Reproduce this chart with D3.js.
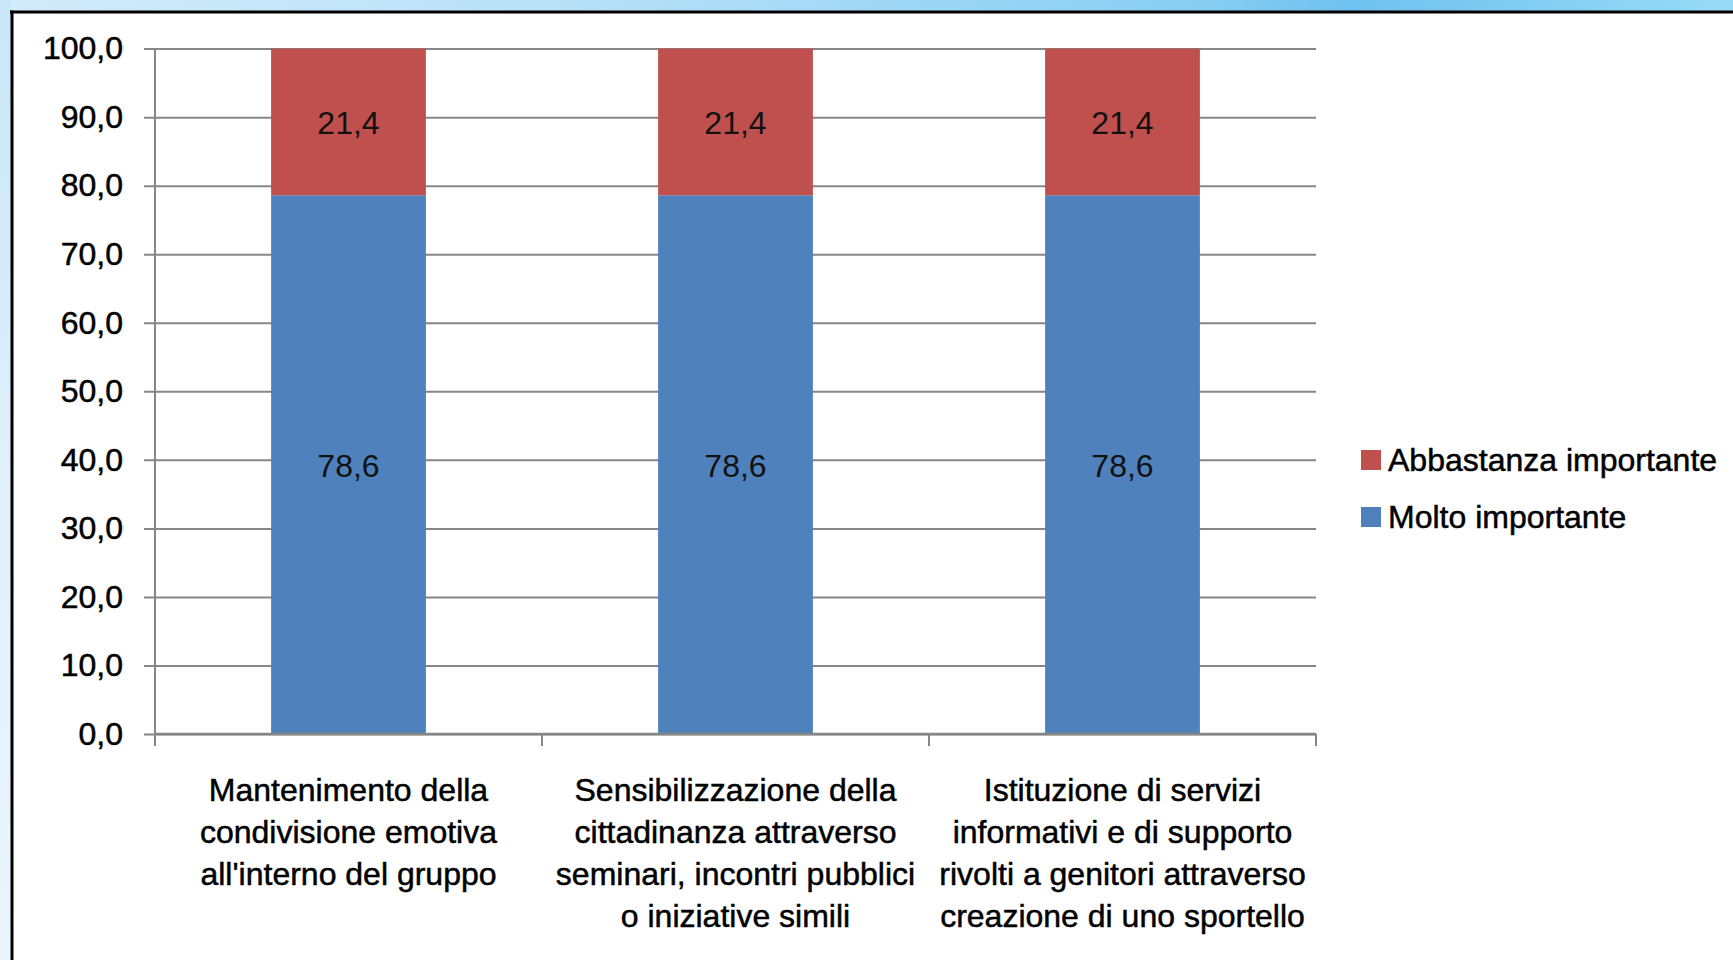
<!DOCTYPE html>
<html>
<head>
<meta charset="utf-8">
<script src="https://cdn.jsdelivr.net/npm/d3@7/dist/d3.min.js"></script>
<style>
  html, body { margin: 0; padding: 0; background: #ffffff; }
  svg { display: block; }
  text { font-family: "Liberation Sans", Arial, sans-serif; }
</style>
</head>
<body>
<svg id="chart" width="1733" height="960"></svg>
<script>
// ---- data ----
const categories = [
  "Mantenimento della condivisione emotiva all'interno del gruppo",
  "Sensibilizzazione della cittadinanza attraverso seminari, incontri pubblici o iniziative simili",
  "Istituzione di servizi informativi e di supporto rivolti a genitori attraverso creazione di uno sportello"
];
const categoryLines = [
  ["Mantenimento della", "condivisione emotiva", "all'interno del gruppo"],
  ["Sensibilizzazione della", "cittadinanza attraverso", "seminari, incontri pubblici", "o iniziative simili"],
  ["Istituzione di servizi", "informativi e di supporto", "rivolti a genitori attraverso", "creazione di uno sportello"]
];
const seriesNames = ["Molto importante", "Abbastanza importante"];
const moltoImportante = [78.6, 78.6, 78.6];
const abbastanzaImportante = [21.4, 21.4, 21.4];
const yTickValues = [0, 10, 20, 30, 40, 50, 60, 70, 80, 90, 100];
const seriesColors = ["#4F81BD", "#C0504D"];

// ---- layout ----
const svg = d3.select("#chart");
const W = 1733, H = 960;
const plot = { left: 155, right: 1316, top: 48.6, bottom: 734 };
const FS = 32;

// background frame
const defs = svg.append("defs");
const gTop = defs.append("linearGradient").attr("id", "gTop").attr("x1", "0").attr("x2", "1").attr("y1", "0").attr("y2", "0");
gTop.append("stop").attr("offset", "0").attr("stop-color", "#d3ebfa");
gTop.append("stop").attr("offset", "0.35").attr("stop-color", "#b6e0f8");
gTop.append("stop").attr("offset", "0.7").attr("stop-color", "#86cdf2");
gTop.append("stop").attr("offset", "0.78").attr("stop-color", "#6fc1ef");
gTop.append("stop").attr("offset", "1").attr("stop-color", "#98dbf6");
const gLeft = defs.append("linearGradient").attr("id", "gLeft").attr("x1", "0").attr("x2", "0").attr("y1", "0").attr("y2", "1");
gLeft.append("stop").attr("offset", "0").attr("stop-color", "#c9e6f9");
gLeft.append("stop").attr("offset", "0.5").attr("stop-color", "#dff0fb");
gLeft.append("stop").attr("offset", "1").attr("stop-color", "#eaf5fd");

svg.append("rect").attr("x", 0).attr("y", 0).attr("width", W).attr("height", H).attr("fill", "#ffffff");
svg.append("rect").attr("x", 0).attr("y", 0).attr("width", W).attr("height", 11).attr("fill", "url(#gTop)");
svg.append("rect").attr("x", 0).attr("y", 0).attr("width", 11).attr("height", H).attr("fill", "url(#gLeft)");
svg.append("line").attr("x1", 10).attr("x2", W).attr("y1", 12).attr("y2", 12).attr("stroke", "#000").attr("stroke-width", 3);
svg.append("line").attr("x1", 12).attr("x2", 12).attr("y1", 10.5).attr("y2", H).attr("stroke", "#000").attr("stroke-width", 3);

// scales
const x = d3.scaleBand().domain(categories).range([plot.left, plot.right]).paddingInner(0.6).paddingOuter(0.3);
const y = d3.scaleLinear().domain([0, 100]).range([plot.bottom, plot.top]);

const gridColor = "#868686";
const fmt = v => d3.format(".1f")(v).replace(".", ",");

// gridlines + y axis
const yAxis = d3.axisLeft(y).tickValues(yTickValues).tickSize(plot.right - plot.left + 11).tickFormat(fmt).tickPadding(21);
const gy = svg.append("g").attr("transform", `translate(${plot.right},0)`).call(yAxis);
gy.select(".domain").remove();
gy.selectAll(".tick line").attr("stroke", gridColor).attr("stroke-width", 2);
gy.selectAll(".tick text")
  .attr("font-size", FS).attr("fill", "#000").attr("stroke", "#000").attr("stroke-width", 0.5)
  .attr("font-family", "Liberation Sans, Arial, sans-serif")
  .attr("x", -(plot.right - plot.left + 11) - 21);

// bars
const rows = categories.map((c, i) => ({ cat: c, molto: moltoImportante[i], abb: abbastanzaImportante[i] }));
const stack = d3.stack().keys(["molto", "abb"]);
const stacked = stack(rows);

const layers = svg.append("g").selectAll("g").data(stacked).join("g").attr("fill", (d, i) => seriesColors[i]);
layers.selectAll("rect").data(d => d).join("rect")
  .attr("x", d => x(d.data.cat))
  .attr("width", x.bandwidth())
  .attr("y", d => y(d[1]))
  .attr("height", d => y(d[0]) - y(d[1]));

// value labels
stacked.forEach((layer, li) => {
  svg.append("g").selectAll("text").data(layer).join("text")
    .attr("x", d => x(d.data.cat) + x.bandwidth() / 2)
    .attr("y", d => (y(d[0]) + y(d[1])) / 2 + 1)
    .attr("text-anchor", "middle").attr("dominant-baseline", "central")
    .attr("font-size", FS).attr("fill", "#111")
    .text(d => fmt(d[1] - d[0]));
});

// x axis
svg.append("line").attr("x1", plot.left).attr("x2", plot.right).attr("y1", y(0)).attr("y2", y(0))
  .attr("stroke", gridColor).attr("stroke-width", 2.5);
svg.append("line").attr("x1", plot.left).attr("x2", plot.left).attr("y1", y(100)).attr("y2", y(0) + 12)
  .attr("stroke", gridColor).attr("stroke-width", 2);
const step = x.step();
const boundaries = categories.map((c, i) => x(c) - x.paddingInner() * step / 2 + step);
svg.append("g").selectAll("line").data(boundaries).join("line")
  .attr("x1", d => d).attr("x2", d => d).attr("y1", y(0)).attr("y2", y(0) + 12)
  .attr("stroke", gridColor).attr("stroke-width", 2);

// category labels
categories.forEach((c, i) => {
  const t = svg.append("text")
    .attr("x", x(c) + x.bandwidth() / 2)
    .attr("y", 790)
    .attr("text-anchor", "middle")
    .attr("font-size", FS).attr("fill", "#000").attr("stroke", "#000").attr("stroke-width", 0.5);
  categoryLines[i].forEach((ln, k) => {
    t.append("tspan").attr("x", x(c) + x.bandwidth() / 2).attr("y", 790 + k * 42)
      .attr("dominant-baseline", "central").text(ln);
  });
});

// legend (reversed order: Abbastanza on top)
const legendItems = [1, 0];
const lg = svg.append("g");
legendItems.forEach((si, k) => {
  const cy = 460 + k * 57;
  lg.append("rect").attr("x", 1361).attr("y", cy - 10).attr("width", 20).attr("height", 20).attr("fill", seriesColors[si]);
  lg.append("text").attr("x", 1388).attr("y", cy).attr("dominant-baseline", "central")
    .attr("font-size", FS).attr("fill", "#000").attr("stroke", "#000").attr("stroke-width", 0.5)
    .text(seriesNames[si]);
});
</script>
</body>
</html>
